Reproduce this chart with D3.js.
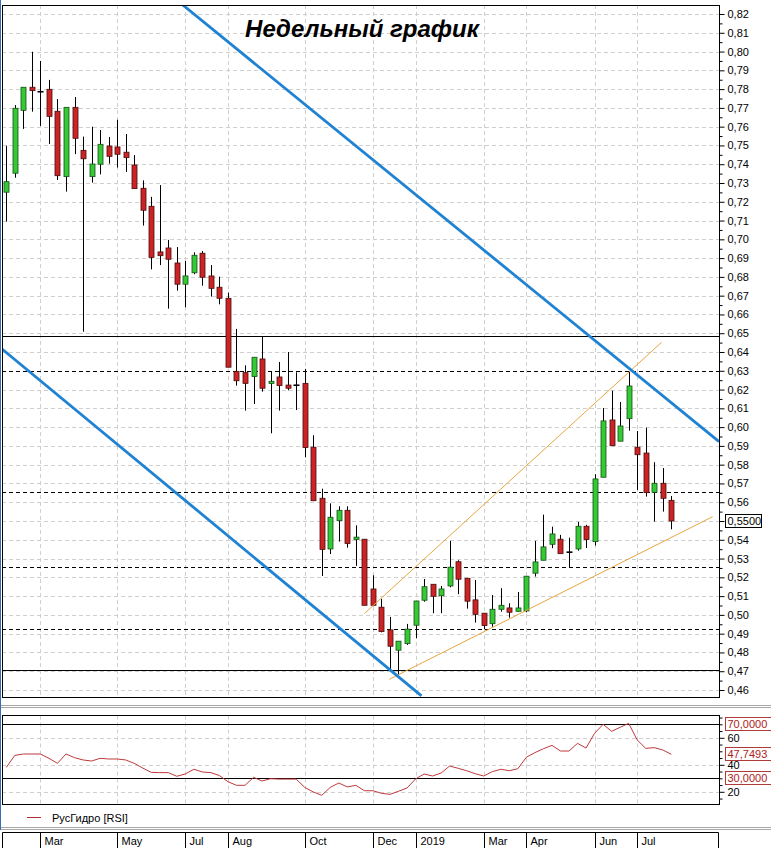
<!DOCTYPE html>
<html>
<head>
<meta charset="utf-8">
<script src="https://cdn.jsdelivr.net/npm/d3@7"></script>
<style>
  body { margin: 0; background: #fff; }
  svg text { font-family: "Liberation Sans", Arial, sans-serif; }
</style>
</head>
<body>
<div id="chart"></div>
<script>
// weekly candles, RusHydro
const opens = [0.7251, 0.7352, 0.7687, 0.7810, 0.7786, 0.7799, 0.7682, 0.7334, 0.7703, 0.7474,
  0.7334, 0.7400, 0.7497, 0.7492, 0.7464, 0.7396, 0.7272, 0.7176, 0.6933, 0.6954,
  0.6874, 0.6761, 0.6822, 0.6926, 0.6805, 0.6745, 0.6686, 0.6297, 0.6290, 0.6269,
  0.6363, 0.6233, 0.6267, 0.6224, 0.6223, 0.6233, 0.5893, 0.5621, 0.5351, 0.5502,
  0.5557, 0.5402, 0.5403, 0.5138, 0.5041, 0.4920, 0.4812, 0.4847, 0.4945, 0.5078,
  0.5163, 0.5102, 0.5154, 0.5283, 0.5195, 0.5080, 0.5009, 0.4953, 0.5030, 0.5037,
  0.5019, 0.5021, 0.5222, 0.5291, 0.5376, 0.5403, 0.5334, 0.5351, 0.5472, 0.5390,
  0.5733, 0.6038, 0.5925, 0.6045, 0.5893, 0.5862, 0.5653, 0.5701, 0.5610];
const highs = [0.7499, 0.7715, 0.7810, 0.7999, 0.7950, 0.7849, 0.7747, 0.7703, 0.7758, 0.7547,
  0.7600, 0.7582, 0.7545, 0.7637, 0.7561, 0.7449, 0.7314, 0.7226, 0.7289, 0.6997,
  0.6959, 0.6885, 0.6931, 0.6938, 0.6863, 0.6801, 0.6716, 0.6523, 0.6329, 0.6372,
  0.6482, 0.6297, 0.6347, 0.6400, 0.6292, 0.6310, 0.5957, 0.5672, 0.5594, 0.5578,
  0.5578, 0.5477, 0.5403, 0.5211, 0.5086, 0.4989, 0.4860, 0.4952, 0.5074, 0.5191,
  0.5163, 0.5154, 0.5394, 0.5291, 0.5195, 0.5186, 0.5009, 0.5106, 0.5142, 0.5062,
  0.5122, 0.5206, 0.5394, 0.5534, 0.5470, 0.5426, 0.5411, 0.5495, 0.5480, 0.5749,
  0.6102, 0.6194, 0.6134, 0.6294, 0.5979, 0.5997, 0.5813, 0.5782, 0.5633];
const lows = [0.7094, 0.7328, 0.7588, 0.7680, 0.7604, 0.7508, 0.7316, 0.7254, 0.7454, 0.6508,
  0.7302, 0.7346, 0.7403, 0.7382, 0.7359, 0.7270, 0.7073, 0.6840, 0.6863, 0.6631,
  0.6727, 0.6638, 0.6814, 0.6753, 0.6695, 0.6654, 0.6319, 0.6221, 0.6088, 0.6123,
  0.6189, 0.5967, 0.6088, 0.6196, 0.6091, 0.5839, 0.5608, 0.5207, 0.5324, 0.5390,
  0.5358, 0.5261, 0.5051, 0.5046, 0.4907, 0.4707, 0.4680, 0.4840, 0.4876, 0.5070,
  0.5009, 0.5009, 0.5147, 0.5110, 0.5033, 0.4959, 0.4924, 0.4937, 0.5017, 0.4985,
  0.5017, 0.5014, 0.5204, 0.5291, 0.5355, 0.5326, 0.5254, 0.5342, 0.5356, 0.5369,
  0.5733, 0.5901, 0.5925, 0.5981, 0.5665, 0.5630, 0.5497, 0.5550, 0.5456];
const closes = [0.7307, 0.7698, 0.7810, 0.7792, 0.7786, 0.7655, 0.7339, 0.7703, 0.7538, 0.7429,
  0.7401, 0.7506, 0.7442, 0.7453, 0.7435, 0.7270, 0.7155, 0.6904, 0.6913, 0.6894,
  0.6761, 0.6805, 0.6915, 0.6798, 0.6739, 0.6686, 0.6319, 0.6247, 0.6233, 0.6372,
  0.6207, 0.6244, 0.6221, 0.6207, 0.6223, 0.5891, 0.5608, 0.5349, 0.5520, 0.5557,
  0.5380, 0.5414, 0.5051, 0.5051, 0.4911, 0.4833, 0.4860, 0.4924, 0.5074, 0.5150,
  0.5099, 0.5138, 0.5254, 0.5190, 0.5073, 0.5003, 0.4943, 0.5030, 0.5051, 0.5014,
  0.5037, 0.5206, 0.5282, 0.5362, 0.5431, 0.5326, 0.5334, 0.5472, 0.5401, 0.5724,
  0.6033, 0.5901, 0.6006, 0.6219, 0.5853, 0.5651, 0.5701, 0.5621, 0.5500];

const rsi = [38.1, 47.0, 48.0, 48.0, 48.0, 44.8, 41.1, 48.0, 45.3, 43.6,
  42.8, 44.8, 44.3, 44.3, 43.6, 41.1, 37.6, 34.4, 34.2, 34.2,
  31.5, 33.2, 36.7, 34.7, 34.2, 32.0, 27.5, 24.8, 24.8, 30.7,
  28.0, 29.7, 29.4, 29.4, 29.4, 23.3, 19.9, 17.4, 23.3, 26.5,
  23.6, 24.8, 20.8, 20.8, 18.9, 18.1, 20.4, 22.8, 29.5, 33.2,
  31.7, 33.9, 39.1, 37.4, 35.6, 33.4, 31.7, 34.9, 36.7, 35.6,
  37.1, 45.6, 49.0, 51.9, 54.4, 50.2, 50.2, 55.9, 52.4, 63.3,
  70.0, 64.8, 67.8, 70.7, 58.4, 52.2, 52.7, 51.0, 47.7493];

// month labels and the week index where each starts
const monthLabels = ["Mar", "May", "Jul", "Aug", "Oct", "Dec", "2019", "Mar", "Apr", "Jun", "Jul"];
const monthWeeks = [4, 13, 21, 26, 35, 43, 48, 56, 61, 69, 74];

// horizontal levels
const solidLevels = [0.6485, 0.4707];
const dashedLevels = [0.630, 0.5655, 0.5255, 0.4925];

// trend lines as [week, price] pairs
const blueLines = [
  [[-0.5, 0.6416], [48.7, 0.4569]],
  [[20.7, 0.8248], [83.6, 0.5923]]
];
const orangeLines = [
  [[42.0, 0.5007], [76.87, 0.6452]],
  [[44.93, 0.4657], [82.85, 0.5523]]
];

const rsiLevels = [70, 30];
const rsiBoxes = [70, rsi[rsi.length - 1], 30];

const width = 771, height = 848;
const plot = { left: 2, right: 719, top: 5, bottom: 697 };
const rsiPane = { top: 715.5, bottom: 804.5 };

const svg = d3.select("#chart").append("svg")
  .attr("width", width)
  .attr("height", height);

svg.append("rect").attr("width", width).attr("height", height).attr("fill", "#fff");

const x = d3.scaleLinear().domain([0, opens.length - 1]).range([6.3, 671.3]);
const y = d3.scaleLinear().domain([0.46, 0.82]).range([690, 14]);
const yR = d3.scaleLinear().domain([30, 70]).range([778.3, 724.3]);

const fmt = (v, n) => d3.format("." + n + "f")(v).replace(".", ",");
const last = closes[closes.length - 1];

svg.append("clipPath").attr("id", "clipMain")
  .append("rect")
  .attr("x", plot.left).attr("y", plot.top)
  .attr("width", plot.right - plot.left).attr("height", plot.bottom - plot.top);

// ---- main grid
const grid = svg.append("g").attr("stroke", "#cfcfcf").attr("stroke-dasharray", "4,3");
grid.selectAll("line.h")
  .data(d3.range(46, 83).map(v => v / 100))
  .enter().append("line")
  .attr("x1", plot.left).attr("x2", plot.right)
  .attr("y1", d => Math.round(y(d)) + 0.5).attr("y2", d => Math.round(y(d)) + 0.5);
grid.selectAll("line.v")
  .data(monthWeeks)
  .enter().append("line")
  .attr("x1", d => Math.round(x(d)) + 0.5).attr("x2", d => Math.round(x(d)) + 0.5)
  .attr("y1", plot.top).attr("y2", plot.bottom);

// ---- levels
svg.selectAll("line.solidLevel")
  .data(solidLevels)
  .enter().append("line")
  .attr("x1", plot.left).attr("x2", plot.right)
  .attr("y1", d => Math.round(y(d)) + 0.5).attr("y2", d => Math.round(y(d)) + 0.5)
  .attr("stroke", "#000").attr("stroke-width", 1.2);
svg.selectAll("line.dashLevel")
  .data(dashedLevels)
  .enter().append("line")
  .attr("x1", plot.left).attr("x2", plot.right)
  .attr("y1", d => Math.round(y(d)) + 0.5).attr("y2", d => Math.round(y(d)) + 0.5)
  .attr("stroke", "#000").attr("stroke-width", 1.2)
  .attr("stroke-dasharray", "4,3");

// ---- candles
const candles = svg.append("g");
const idx = d3.range(opens.length);
const bodyW = 5;

candles.selectAll("line.wick")
  .data(idx)
  .enter().append("line")
  .attr("x1", i => Math.round(x(i)) + 0.5).attr("x2", i => Math.round(x(i)) + 0.5)
  .attr("y1", i => y(highs[i])).attr("y2", i => y(lows[i]))
  .attr("stroke", "#000").attr("stroke-width", 1);

candles.selectAll("rect.body")
  .data(idx.filter(i => opens[i] !== closes[i]))
  .enter().append("rect")
  .attr("x", i => Math.round(x(i)) + 0.5 - bodyW / 2)
  .attr("y", i => y(Math.max(opens[i], closes[i])))
  .attr("width", bodyW)
  .attr("height", i => Math.max(1.5, Math.abs(y(opens[i]) - y(closes[i]))))
  .attr("fill", i => closes[i] > opens[i] ? "#35c935" : "#cc2424")
  .attr("stroke", i => closes[i] > opens[i] ? "#145214" : "#4a0c0c")
  .attr("stroke-width", 0.8);

candles.selectAll("line.doji")
  .data(idx.filter(i => opens[i] === closes[i]))
  .enter().append("line")
  .attr("x1", i => Math.round(x(i)) + 0.5 - bodyW / 2 - 0.5)
  .attr("x2", i => Math.round(x(i)) + 0.5 + bodyW / 2 + 0.5)
  .attr("y1", i => y(opens[i])).attr("y2", i => y(opens[i]))
  .attr("stroke", "#000").attr("stroke-width", 1.6);

// ---- trend lines
const line = d3.line().x(d => x(d[0])).y(d => y(d[1]));
const trends = svg.append("g").attr("clip-path", "url(#clipMain)");
trends.selectAll("path.orange")
  .data(orangeLines)
  .enter().append("path")
  .attr("d", line)
  .attr("fill", "none")
  .attr("stroke", "#e6a640")
  .attr("stroke-width", 1);
trends.selectAll("path.blue")
  .data(blueLines)
  .enter().append("path")
  .attr("d", line)
  .attr("fill", "none")
  .attr("stroke", "#1f82d2")
  .attr("stroke-width", 2.8);

// ---- frame
svg.append("rect")
  .attr("x", plot.left + 0.5).attr("y", plot.top + 0.5)
  .attr("width", plot.right - plot.left).attr("height", plot.bottom - plot.top)
  .attr("fill", "none").attr("stroke", "#000");

// ---- title
svg.append("text")
  .attr("x", 362).attr("y", 37)
  .attr("text-anchor", "middle")
  .style("font-size", "24px")
  .style("font-weight", "bold")
  .style("font-style", "italic")
  .text("Недельный график");

// ---- price axis (the label under the last-price box is hidden, as in the original)
const priceAxis = svg.append("g")
  .attr("transform", `translate(${plot.right + 0.5},0)`)
  .call(d3.axisRight(y)
    .tickValues(d3.range(46, 83).map(v => v / 100))
    .tickSize(5).tickPadding(3)
    .tickFormat(d => Math.abs(d - last) < 0.004 ? "" : fmt(d, 2)));
priceAxis.select(".domain").remove();
priceAxis.selectAll("text").style("font-size", "11px").attr("fill", "#000")
  .style("font-family", "'Liberation Sans', Arial, sans-serif");

const minorAxis = svg.append("g")
  .attr("transform", `translate(${plot.right + 0.5},0)`)
  .call(d3.axisRight(y)
    .tickValues(d3.range(46, 82).map(v => (v + 0.5) / 100))
    .tickSize(3).tickFormat(""));
minorAxis.select(".domain").remove();

// last price box
svg.append("rect")
  .attr("x", 725.5).attr("y", Math.round(y(last)) - 6.5)
  .attr("width", 36).attr("height", 13)
  .attr("fill", "#fff").attr("stroke", "#000");
svg.append("text")
  .attr("x", 727.5).attr("y", y(last)).attr("dy", "0.35em")
  .style("font-size", "11px")
  .text(fmt(last, 4));

// ---- pane separators
[705.5, 707.5, 827.5, 829.5].forEach(v => {
  svg.append("line")
    .attr("x1", 0).attr("x2", width)
    .attr("y1", v).attr("y2", v)
    .attr("stroke", "#a8a8a8");
});

// ---- RSI pane
const rgrid = svg.append("g").attr("stroke", "#cfcfcf").attr("stroke-dasharray", "4,3");
rgrid.selectAll("line.h")
  .data([60, 40, 20])
  .enter().append("line")
  .attr("x1", plot.left).attr("x2", plot.right)
  .attr("y1", d => Math.round(yR(d)) + 0.5).attr("y2", d => Math.round(yR(d)) + 0.5);
rgrid.selectAll("line.v")
  .data(monthWeeks)
  .enter().append("line")
  .attr("x1", d => Math.round(x(d)) + 0.5).attr("x2", d => Math.round(x(d)) + 0.5)
  .attr("y1", rsiPane.top).attr("y2", rsiPane.bottom);

svg.selectAll("line.rsiLevel")
  .data(rsiLevels)
  .enter().append("line")
  .attr("x1", plot.left).attr("x2", plot.right)
  .attr("y1", d => Math.round(yR(d)) + 0.5).attr("y2", d => Math.round(yR(d)) + 0.5)
  .attr("stroke", "#000").attr("stroke-width", 1.2);

svg.append("path")
  .datum(rsi)
  .attr("d", d3.line().x((d, i) => x(i)).y(d => yR(d)))
  .attr("fill", "none")
  .attr("stroke", "#c0393b")
  .attr("stroke-width", 1);

svg.append("rect")
  .attr("x", plot.left + 0.5).attr("y", rsiPane.top)
  .attr("width", plot.right - plot.left).attr("height", rsiPane.bottom - rsiPane.top)
  .attr("fill", "none").attr("stroke", "#000");

const rsiAxis = svg.append("g")
  .attr("transform", `translate(${plot.right + 0.5},0)`)
  .call(d3.axisRight(yR).tickValues([20, 40, 60]).tickSize(5).tickPadding(3));
rsiAxis.select(".domain").remove();
rsiAxis.selectAll("text").style("font-size", "11px").attr("fill", "#000")
  .style("font-family", "'Liberation Sans', Arial, sans-serif");
const rsiMinor = svg.append("g")
  .attr("transform", `translate(${plot.right + 0.5},0)`)
  .call(d3.axisRight(yR).tickValues([15, 25, 30, 35, 45, 50, 55, 65, 70, 75]).tickSize(3).tickFormat(""));
rsiMinor.select(".domain").remove();

const boxes = svg.selectAll("g.rsiBox")
  .data(rsiBoxes)
  .enter().append("g");
boxes.append("rect")
  .attr("x", 725.5).attr("y", d => Math.round(yR(d)) - 6.5)
  .attr("width", 46).attr("height", 13)
  .attr("fill", "#fff").attr("stroke", "#b03a3a");
boxes.append("text")
  .attr("x", 727.5).attr("y", d => yR(d)).attr("dy", "0.35em")
  .attr("fill", "#b02020")
  .style("font-size", "11px")
  .text(d => fmt(d, 4));

// legend
svg.append("line")
  .attr("x1", 27).attr("x2", 41).attr("y1", 817.5).attr("y2", 817.5)
  .attr("stroke", "#b03030");
svg.append("text")
  .attr("x", 52).attr("y", 821.5)
  .style("font-size", "11px")
  .text("РусГидро [RSI]");

// ---- time axis
svg.append("path")
  .attr("d", `M${plot.left + 0.5},${height}V832.5H${plot.right - 0.5}V${height}`)
  .attr("fill", "none").attr("stroke", "#000");
const tAxis = svg.append("g").selectAll("g")
  .data(monthWeeks)
  .enter().append("g")
  .attr("transform", d => `translate(${Math.round(x(d)) + 0.5},0)`);
tAxis.append("line")
  .attr("y1", 832.5).attr("y2", height)
  .attr("stroke", "#000");
tAxis.append("text")
  .attr("x", 4).attr("y", 845)
  .style("font-size", "11px")
  .text((d, i) => monthLabels[i]);

// window edge
svg.append("line")
  .attr("x1", 0.5).attr("x2", 0.5).attr("y1", 0).attr("y2", 830)
  .attr("stroke", "#3a6db0");
</script>
</body>
</html>
